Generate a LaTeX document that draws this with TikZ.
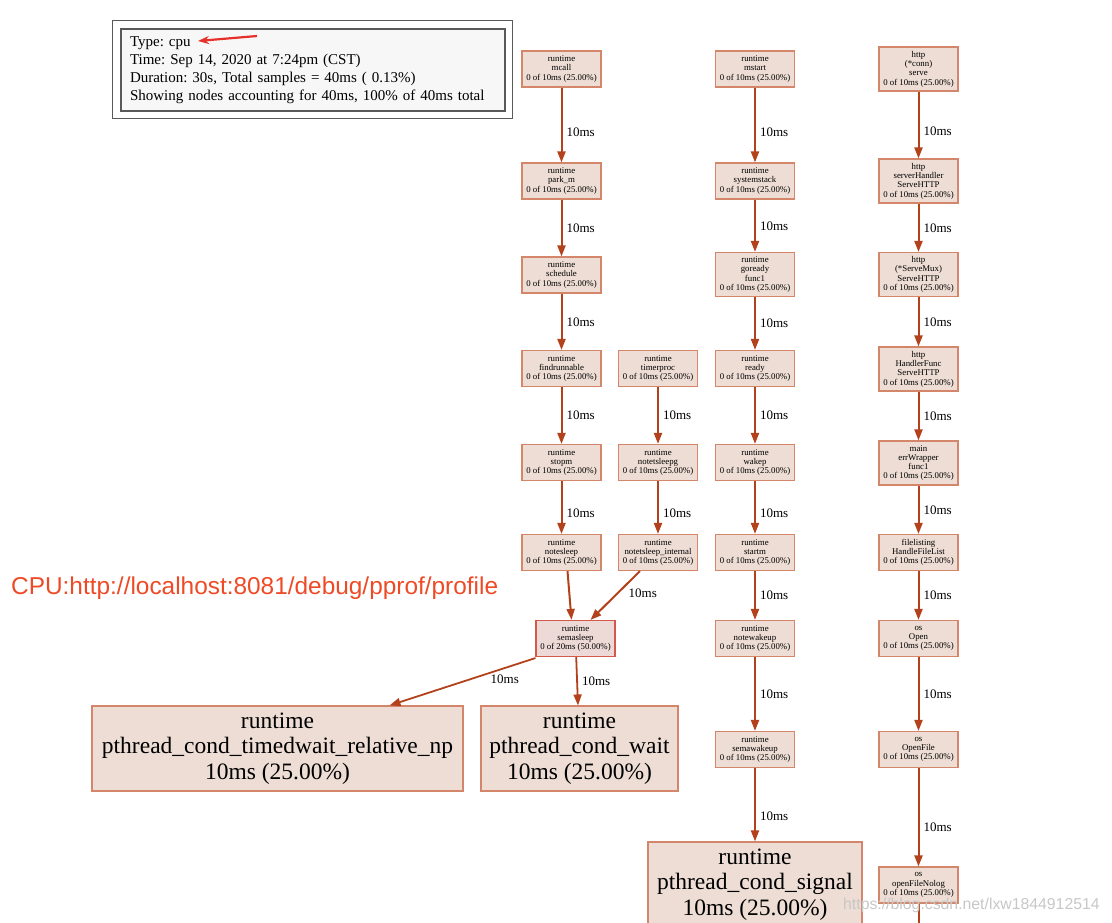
\documentclass[tikz,border=0pt]{standalone}
\usepackage{fontspec}
\setmainfont{Liberation Serif}
\newfontfamily\urlfont{Liberation Sans}
\usetikzlibrary{arrows.meta}

\definecolor{nodefill}{HTML}{EDDDD4}
\definecolor{nodeline}{HTML}{D3866A}
\definecolor{hotfill}{HTML}{EDD9D6}
\definecolor{hotline}{HTML}{D35A4A}
\definecolor{edgecol}{HTML}{B3421C}
\definecolor{notered}{HTML}{EE4A26}
\definecolor{arrowred}{HTML}{E8302A}

\begin{document}
\frenchspacing
\begin{tikzpicture}[x=1pt,y=-1pt,
  fn/.style={draw=nodeline, fill=nodefill, line width=1.1pt, align=center,
    minimum width=79pt, minimum height=36pt, inner sep=1pt,
    font=\fontsize{8.8}{9.3}\selectfont},
  fnfour/.style={fn, minimum height=44pt},
  hot/.style={fn, draw=hotline, fill=hotfill},
  leaf/.style={draw=nodeline, fill=nodefill, line width=1.1pt, align=center,
    minimum height=85pt, inner sep=1pt, font=\fontsize{23.5}{25.5}\selectfont},
  edge/.style={draw=edgecol, line width=2pt, -{Triangle[length=11pt,width=8pt]}},
  lbl/.style={font=\fontsize{13}{13}\selectfont, anchor=west, inner sep=0pt, xshift=4pt}]

  \clip (0,0) rectangle (1112,923);

  % --- Legend ---
  \node[draw=black!65, fill=black!3, line width=1.2pt, minimum width=384pt,
    minimum height=82pt, text width=366pt, inner xsep=9pt, align=left,
    font=\fontsize{15}{18}\selectfont] (legend) at (313,70)
    {Type: cpu\\
     Time: Sep 14, 2020 at 7:24pm (CST)\\
     Duration: 30s, Total samples = 40ms ( 0.13\%)\\
     Showing nodes accounting for 40ms, 100\% of 40ms total};
  \draw[black!65, line width=1.2pt] ([shift={(-8pt,-7pt)}]legend.south west)
    rectangle ([shift={(7pt,8pt)}]legend.north east);
  \coordinate (notetail) at (257,36);
  \coordinate (notetip) at (198,41);
  \draw[arrowred, line width=2.2pt, -{Stealth[length=11pt,width=8pt]}] (notetail) -- (notetip);

  \node[text=notered, anchor=west, inner sep=0pt, font=\urlfont\fontsize{24.4}{27}\selectfont]
    (cpuurl) at (11,588) {CPU:http://localhost:8081/debug/pprof/profile};

  % --- Column 1 ---
  \node[fn] (mcall) at (561.5,69) {runtime\\mcall\\0 of 10ms (25.00\%)};
  \node[fn] (parkm) at (561.5,181) {runtime\\park\_m\\0 of 10ms (25.00\%)};
  \node[fn] (schedule) at (561.5,275) {runtime\\schedule\\0 of 10ms (25.00\%)};
  \node[fn] (findrunnable) at (561.5,368.5) {runtime\\findrunnable\\0 of 10ms (25.00\%)};
  \node[fn] (stopm) at (561.5,462.5) {runtime\\stopm\\0 of 10ms (25.00\%)};
  \node[fn] (notesleep) at (561.5,552.5) {runtime\\notesleep\\0 of 10ms (25.00\%)};

  % --- Column 2 ---
  \node[fn] (timerproc) at (658,368.5) {runtime\\timerproc\\0 of 10ms (25.00\%)};
  \node[fn] (notetsleepg) at (658,462.5) {runtime\\notetsleepg\\0 of 10ms (25.00\%)};
  \node[fn] (notetsleepint) at (658,552.5) {runtime\\notetsleep\_internal\\0 of 10ms (25.00\%)};

  % --- Column 3 ---
  \node[fn] (mstart) at (755,69) {runtime\\mstart\\0 of 10ms (25.00\%)};
  \node[fn] (systemstack) at (755,181) {runtime\\systemstack\\0 of 10ms (25.00\%)};
  \node[fnfour] (goready) at (755,274.5) {runtime\\goready\\func1\\0 of 10ms (25.00\%)};
  \node[fn] (ready) at (755,368.5) {runtime\\ready\\0 of 10ms (25.00\%)};
  \node[fn] (wakep) at (755,462.5) {runtime\\wakep\\0 of 10ms (25.00\%)};
  \node[fn] (startm) at (755,552.5) {runtime\\startm\\0 of 10ms (25.00\%)};
  \node[fn] (notewakeup) at (755,638.5) {runtime\\notewakeup\\0 of 10ms (25.00\%)};
  \node[fn] (semawakeup) at (755,749.5) {runtime\\semawakeup\\0 of 10ms (25.00\%)};

  % --- Column 4 ---
  \node[fnfour] (connserve) at (918.5,69) {http\\(*conn)\\serve\\0 of 10ms (25.00\%)};
  \node[fnfour] (serverhandler) at (918.5,181) {http\\serverHandler\\ServeHTTP\\0 of 10ms (25.00\%)};
  \node[fnfour] (servemux) at (918.5,274.5) {http\\(*ServeMux)\\ServeHTTP\\0 of 10ms (25.00\%)};
  \node[fnfour] (handlerfunc) at (918.5,369) {http\\HandlerFunc\\ServeHTTP\\0 of 10ms (25.00\%)};
  \node[fnfour] (errwrapper) at (918.5,463) {main\\errWrapper\\func1\\0 of 10ms (25.00\%)};
  \node[fn] (filelisting) at (918.5,552.5) {filelisting\\HandleFileList\\0 of 10ms (25.00\%)};
  \node[fn] (osopen) at (918.5,638.5) {os\\Open\\0 of 10ms (25.00\%)};
  \node[fn] (osopenfile) at (918.5,749.5) {os\\OpenFile\\0 of 10ms (25.00\%)};
  \node[fn] (openfilenolog) at (918.5,885) {os\\openFileNolog\\0 of 10ms (25.00\%)};
  \coordinate (nologout) at (918.5,935);

  % --- Semasleep and leaves ---
  \node[hot] (semasleep) at (575.5,638.5) {runtime\\semasleep\\0 of 20ms (50.00\%)};
  \node[leaf, minimum width=371pt] (timedwait) at (277.5,748.5)
    {runtime\\pthread\_cond\_timedwait\_relative\_np\\10ms (25.00\%)};
  \node[leaf, minimum width=197pt] (condwait) at (579.5,748.5)
    {runtime\\pthread\_cond\_wait\\10ms (25.00\%)};
  \node[leaf, minimum width=214pt] (condsignal) at (755,884.5)
    {runtime\\pthread\_cond\_signal\\10ms (25.00\%)};

  % --- Edges ---
  \draw[edge] (mcall) -- node[lbl, pos=0.6] {10ms} (parkm);
  \draw[edge] (parkm) -- node[lbl] {10ms} (schedule);
  \draw[edge] (schedule) -- node[lbl] {10ms} (findrunnable);
  \draw[edge] (findrunnable) -- node[lbl] {10ms} (stopm);
  \draw[edge] (stopm) -- node[lbl, pos=0.6] {10ms} (notesleep);
  \draw[edge] (timerproc) -- node[lbl] {10ms} (notetsleepg);
  \draw[edge] (notetsleepg) -- node[lbl, pos=0.6] {10ms} (notetsleepint);
  \draw[edge] ([xshift=6pt]notesleep.south) -- ([xshift=-4pt]semasleep.north);
  \draw[edge] ([xshift=-18pt]notetsleepint.south) -- node[lbl, pos=0.45, xshift=6pt] {10ms}
    ([xshift=15pt]semasleep.north);
  \draw[edge, line width=1.8pt] ([yshift=-1pt]semasleep.south west) -- node[lbl, pos=0.45, xshift=16pt] {10ms}
    ([xshift=112pt]timedwait.north);
  \draw[edge, line width=1.8pt] (semasleep) -- node[lbl, pos=0.5] {10ms} ([xshift=-1.5pt]condwait.north);

  \draw[edge] (mstart) -- node[lbl, pos=0.6] {10ms} (systemstack);
  \draw[edge] (systemstack) -- node[lbl] {10ms} (goready);
  \draw[edge] (goready) -- node[lbl] {10ms} (ready);
  \draw[edge] (ready) -- node[lbl] {10ms} (wakep);
  \draw[edge] (wakep) -- node[lbl, pos=0.6] {10ms} (startm);
  \draw[edge] (startm) -- node[lbl] {10ms} (notewakeup);
  \draw[edge] (notewakeup) -- node[lbl] {10ms} (semawakeup);
  \draw[edge] (semawakeup) -- node[lbl, pos=0.65] {10ms} (condsignal);

  \draw[edge] (connserve) -- node[lbl, pos=0.6] {10ms} (serverhandler);
  \draw[edge] (serverhandler) -- node[lbl] {10ms} (servemux);
  \draw[edge] (servemux) -- node[lbl] {10ms} (handlerfunc);
  \draw[edge] (handlerfunc) -- node[lbl] {10ms} (errwrapper);
  \draw[edge] (errwrapper) -- node[lbl] {10ms} (filelisting);
  \draw[edge] (filelisting) -- node[lbl] {10ms} (osopen);
  \draw[edge] (osopen) -- node[lbl] {10ms} (osopenfile);
  \draw[edge] (osopenfile) -- node[lbl, pos=0.6] {10ms} (openfilenolog);
  \draw[edgecol, line width=2pt] (openfilenolog) -- (nologout);

  % --- Watermark ---
  \node[text=black!22, anchor=west, inner sep=0pt, font=\urlfont\fontsize{15.8}{16}\selectfont]
    (watermark) at (843,905) {https://blog.csdn.net/lxw1844912514};

\end{tikzpicture}
\end{document}
